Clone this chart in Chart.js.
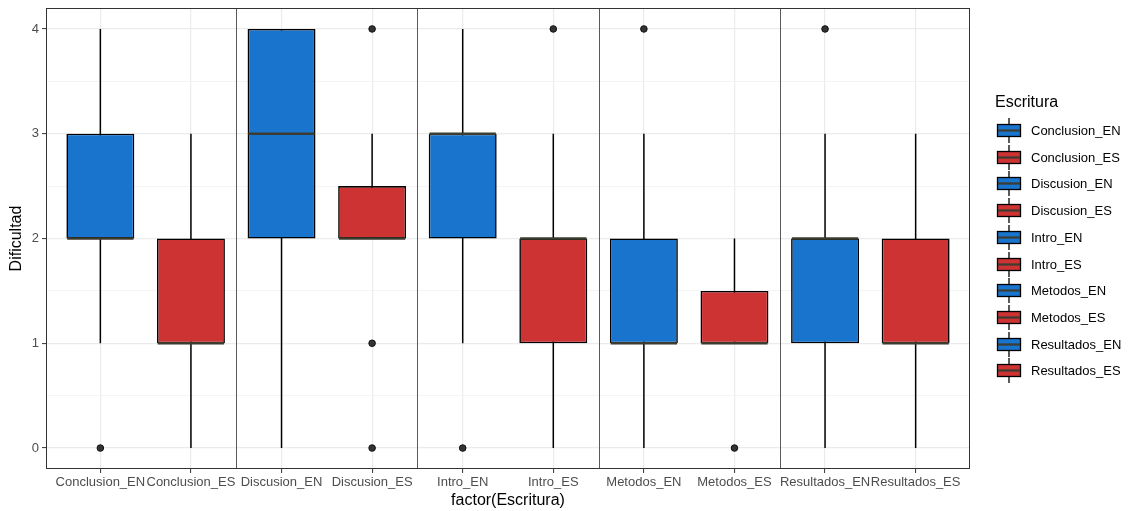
<!DOCTYPE html>
<html>
<head>
<meta charset="utf-8">
<script src="https://cdn.jsdelivr.net/npm/chart.js@4.4.1/dist/chart.umd.min.js"></script>
<style>
  html, body { margin: 0; padding: 0; background: #fff; }
  #wrap { position: relative; width: 1131px; height: 511px; font-family: "Liberation Sans", Arial, sans-serif; }
  #chart { position: absolute; left: 0; top: 0; }
  #legend { position: absolute; left: 0; top: 0; width: 1131px; height: 511px; pointer-events: none; }
  .lg-title { position: absolute; left: 995px; font-size: 16px; color: #000; line-height: 18px; }
  .lg-item { position: absolute; left: 996px; height: 27px; display: flex; align-items: center; }
  .lg-item span { margin-left: 9px; font-size: 13px; color: #000; }
</style>
</head>
<body>
<div id="wrap">
  <canvas id="chart" width="1131" height="511"></canvas>
  <div id="legend"></div>
</div>
<script>
// Writing sections, English vs. Spanish versions
const categories = ['Conclusion_EN', 'Conclusion_ES', 'Discusion_EN', 'Discusion_ES', 'Intro_EN',
                    'Intro_ES', 'Metodos_EN', 'Metodos_ES', 'Resultados_EN', 'Resultados_ES'];
// Five-number summaries of "Dificultad" per group
const lowerWhisker = [1, 0, 0, 2, 1, 0, 0, 1, 0, 0];
const q1           = [2, 1, 2, 2, 2, 1, 1, 1, 1, 1];
const medians      = [2, 1, 3, 2, 3, 2, 1, 1, 2, 1];
const q3           = [3, 2, 4, 2.5, 3, 2, 2, 1.5, 2, 2];
const upperWhisker = [4, 3, 4, 3, 4, 3, 3, 2, 3, 3];
const outliers     = [[0], [], [], [4, 1, 0], [0], [4], [4], [0], [4], []];
const yTicks = [0, 1, 2, 3, 4];
// section boundaries (between each EN/ES pair)
const separators = [2.5, 4.5, 6.5, 8.5];

const BLUE = '#1874CD';
const RED = '#CD3333';
const FONT = '"Liberation Sans", Arial, sans-serif';
const colorFor = name => name.endsWith('_EN') ? BLUE : RED;

const boxData = categories.map((c, i) => ({ x: i + 1, y: [q1[i], q3[i]] }));
const outlierData = [];
outliers.forEach((vals, i) => vals.forEach(v => outlierData.push({ x: i + 1, y: v })));

const boxPlotPlugin = {
  id: 'boxPlotExtras',
  beforeDatasetsDraw(chart) {
    const { ctx, chartArea, scales: { x, y } } = chart;
    ctx.save();
    // section separators
    ctx.strokeStyle = '#5a5a5a';
    ctx.lineWidth = 1;
    separators.forEach(s => {
      const px = Math.round(x.getPixelForValue(s)) + 0.5;
      ctx.beginPath();
      ctx.moveTo(px, chartArea.top);
      ctx.lineTo(px, chartArea.bottom);
      ctx.stroke();
    });
    // whiskers
    ctx.strokeStyle = '#000';
    ctx.lineWidth = 1.5;
    categories.forEach((c, i) => {
      const px = x.getPixelForValue(i + 1);
      ctx.beginPath();
      ctx.moveTo(px, y.getPixelForValue(lowerWhisker[i]));
      ctx.lineTo(px, y.getPixelForValue(upperWhisker[i]));
      ctx.stroke();
    });
    ctx.restore();
  },
  afterDatasetsDraw(chart) {
    const { ctx, chartArea, scales: { y } } = chart;
    const meta = chart.getDatasetMeta(0);
    ctx.save();
    ctx.strokeStyle = '#3c3c30';
    ctx.lineWidth = 2.6;
    meta.data.forEach((bar, i) => {
      const py = y.getPixelForValue(medians[i]);
      ctx.beginPath();
      ctx.moveTo(bar.x - bar.width / 2 + 0.8, py);
      ctx.lineTo(bar.x + bar.width / 2 - 0.8, py);
      ctx.stroke();
    });
    // panel border
    ctx.strokeStyle = '#333';
    ctx.lineWidth = 1;
    ctx.strokeRect(Math.round(chartArea.left) + 0.5, Math.round(chartArea.top) + 0.5,
                   Math.round(chartArea.right - chartArea.left) - 1, Math.round(chartArea.bottom - chartArea.top) - 1);
    ctx.restore();
  }
};

new Chart(document.getElementById('chart'), {
  type: 'bar',
  data: {
    datasets: [{
      label: 'Dificultad',
      data: boxData,
      backgroundColor: categories.map(colorFor),
      borderColor: '#000',
      borderWidth: 1.6,
      borderSkipped: false,
      categoryPercentage: 1,
      barPercentage: 0.75,
      grouped: false,
      order: 2
    }, {
      type: 'scatter',
      label: 'outliers',
      data: outlierData,
      pointRadius: 3.3,
      pointBackgroundColor: '#333',
      pointBorderColor: '#111',
      pointBorderWidth: 1,
      order: 1
    }]
  },
  options: {
    responsive: false,
    animation: false,
    events: [],
    layout: { padding: { left: 0, right: 161, top: 8, bottom: 0 } },
    plugins: { legend: { display: false }, tooltip: { enabled: false } },
    scales: {
      x: {
        type: 'linear',
        offset: false,
        min: 0.4,
        max: 10.6,
        afterBuildTicks: s => { s.ticks = categories.map((c, i) => ({ value: i + 1 })); },
        afterFit: s => { s.height = 42; s.paddingLeft = 0; s.paddingRight = 0; },
        ticks: {
          autoSkip: false,
          maxRotation: 0,
          padding: 2,
          color: '#4d4d4d',
          font: { family: FONT, size: 13 },
          callback: v => categories[v - 1]
        },
        grid: {
          offset: false,
          color: '#ebebeb',
          lineWidth: 1.2,
          tickLength: 4,
          tickColor: '#333',
          tickWidth: 1
        },
        border: { display: false },
        title: {
          display: true,
          text: 'factor(Escritura)',
          color: '#000',
          font: { family: FONT, size: 16 },
          padding: { top: 0, bottom: 1 }
        }
      },
      y: {
        type: 'linear',
        min: -0.2,
        max: 4.2,
        afterBuildTicks: s => {
          const t = [];
          for (let v = 0; v <= 4; v += 0.5) t.push({ value: v });
          s.ticks = t;
        },
        afterFit: s => { s.width = 46; s.paddingTop = 0; s.paddingBottom = 0; },
        ticks: {
          padding: 3,
          color: '#4d4d4d',
          font: { family: FONT, size: 13 },
          callback: v => yTicks.includes(v) ? String(v) : ''
        },
        grid: {
          color: c => Number.isInteger(c.tick.value) ? '#ebebeb' : '#f3f3f3',
          lineWidth: c => Number.isInteger(c.tick.value) ? 1.2 : 0.9,
          tickLength: 4,
          tickColor: c => Number.isInteger(c.tick.value) ? '#333' : 'rgba(0,0,0,0)',
          tickWidth: 1
        },
        border: { display: false },
        title: {
          display: true,
          text: 'Dificultad',
          color: '#000',
          font: { family: FONT, size: 16 },
          padding: { top: 7, bottom: 0 }
        }
      }
    }
  },
  plugins: [boxPlotPlugin]
});

// Legend: one boxplot key per group
const legend = document.getElementById('legend');
const title = document.createElement('div');
title.className = 'lg-title';
title.textContent = 'Escritura';
title.style.top = '93px';
legend.appendChild(title);

categories.forEach((name, i) => {
  const item = document.createElement('div');
  item.className = 'lg-item';
  item.style.top = (117 + i * 26.7) + 'px';
  const key = document.createElement('canvas');
  key.width = 26; key.height = 27;
  const k = key.getContext('2d');
  k.strokeStyle = '#000';
  k.lineWidth = 1.3;
  k.beginPath(); k.moveTo(13, 1); k.lineTo(13, 26); k.stroke();
  k.fillStyle = colorFor(name);
  k.fillRect(1.5, 7.5, 23, 12);
  k.lineWidth = 1.3;
  k.strokeStyle = '#000';
  k.strokeRect(1.5, 7.5, 23, 12);
  k.strokeStyle = '#3c3c30';
  k.lineWidth = 2.2;
  k.beginPath(); k.moveTo(2, 13.5); k.lineTo(24, 13.5); k.stroke();
  const label = document.createElement('span');
  label.textContent = name;
  item.appendChild(key);
  item.appendChild(label);
  legend.appendChild(item);
});
</script>
</body>
</html>
